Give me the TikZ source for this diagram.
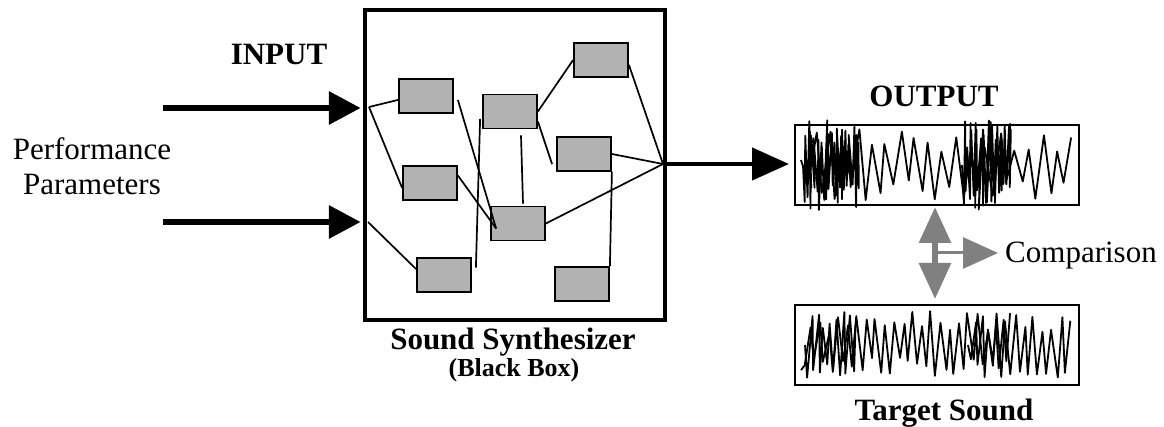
\documentclass[tikz,border=0pt]{standalone}
\usepackage{fontspec}
\setmainfont{Liberation Serif}
\usetikzlibrary{arrows.meta,calc}
\definecolor{boxgrey}{RGB}{178,178,178}
\definecolor{arrowgrey}{RGB}{128,128,128}
\begin{document}
\begin{tikzpicture}[x=1pt,y=-1pt,
  unit/.style={draw=black, line width=1.8pt, fill=boxgrey,
    minimum width=54pt, minimum height=34pt, inner sep=0pt},
  link/.style={line width=1.7pt},
  feed/.style={line width=6.5pt, -{Triangle[length=32pt,width=32pt]}},
  outfeed/.style={line width=4.5pt, -{Triangle[length=37pt,width=32pt]}},
  wavebox/.style={draw, line width=2pt, minimum width=284pt,
    minimum height=80pt, inner sep=0pt},
  wave/.style={line width=1.8pt, line join=round},
  lbl/.style={font=\fontsize{31}{35}\selectfont, inner sep=0pt},
  blbl/.style={font=\fontsize{31}{35}\selectfont\bfseries, inner sep=0pt},
  sblbl/.style={font=\fontsize{26}{30}\selectfont\bfseries, inner sep=0pt},
  cmpv/.style={draw=arrowgrey, line width=6pt,
    {Triangle[length=36pt,width=31pt]}-{Triangle[length=36pt,width=31pt]}},
  cmph/.style={draw=arrowgrey, line width=3pt,
    -{Triangle[length=35pt,width=31pt]}}
]
\useasboundingbox (0,0) rectangle (1164,427);

% the synthesizer (black box)
\node[draw, line width=4.5pt, minimum width=300pt, minimum height=310pt,
  inner sep=0pt] (synth) at (515,165) {};

% internal units
\node[unit] (b1) at (426,96) {};
\node[unit] (b2) at (510,111.5) {};
\node[unit] (b3) at (601,60) {};
\node[unit] (b4) at (584,154) {};
\node[unit] (b5) at (430,183) {};
\node[unit] (b6) at (518,223.5) {};
\node[unit] (b7) at (444,275) {};
\node[unit] (b8) at (582,284) {};

% junctions on the box border
\coordinate (in1) at (369,107);
\coordinate (in2) at (368,222);
\coordinate (outj) at (663,164);

% internal wiring
\draw[link] (in1) -- (b1.188);
\draw[link] (in1) -- (b5.190);
\draw[link] (in2) -- (b7.168);
\draw[link] ($(b1.east)+(4,4)$) -- ($(b6.west)+(6,5)$);
\draw[link] (b5.15) -- ($(b6.west)+(6,5)$);
\draw[link] ($(b7.15)+(4,0)$) -- ($(b2.195)+(-2,0)$);
\draw[link] ($(b2.south)+(11,6)$) -- ($(b6.north)+(5,-2)$);
\draw[link] (b2.east) -- (b3.west);
\draw[link] (b2.340) -- ($(b4.200)+(-4,0)$);
\draw[link] (b3.350) -- (outj);
\draw[link] (b4.east) -- (outj);
\draw[link] (b6.east) -- (outj);
\draw[link] (b4.south east) -- (b8.north east);

% inputs
\coordinate (p1) at (163,108);
\coordinate (p2) at (163,222);
\draw[feed, shorten >=2pt] (p1) -- (p1 -| synth.west);
\draw[feed, shorten >=2pt] (p2) -- (p2 -| synth.west);

% waveform panels
\node[wavebox] (wout) at (937,165) {};
\node[wavebox] (wtgt) at (937,345) {};

% output
\draw[outfeed] (outj) -- ($(wout.west)+(-5,-1)$);

% synthesized waveform
\pgfmathsetseed{4711}
\draw[wave] (801,160)
  \foreach \i in {1,...,38}{ -- ({801+\i*7.1+2*rand},{165+(2*mod(\i,2)-1)*(12+24*rnd)}) };
\draw[wave] (803,165)
  \foreach \i in {1,...,44}{ -- ({803+\i*1.25+2*rand},{165+(2*mod(\i,2)-1)*(16+29*rnd)}) };
\draw[wave] (962,165)
  \foreach \i in {1,...,40}{ -- ({962+\i*1.25+2*rand},{165+(2*mod(\i,2)-1)*(16+29*rnd)}) };

% target waveform
\draw[wave] (801,370)
  \foreach \i in {1,...,58}{ -- ({801+\i*4.65+1.5*rand},{345+(2*mod(\i,2)-1)*(12+22*rnd)}) };
\draw[wave] (805,345)
  \foreach \i in {1,...,16}{ -- ({805+\i*3.2+1.5*rand},{345+(2*mod(\i,2)-1)*(14+20*rnd)}) };
\draw[wave] (968,345)
  \foreach \i in {1,...,12}{ -- ({968+\i*3.5+1.5*rand},{345+(2*mod(\i,2)-1)*(14+20*rnd)}) };

% comparison arrows
\draw[cmpv] ($(wout.south)+(-2,1)$) -- ($(wtgt.north)+(-2,-5)$);
\coordinate (cmid) at (936,253);

% labels
\node[blbl, anchor=base] (inlbl) at (279,65) {INPUT};
\node[lbl, align=center, anchor=north] (perf) at (92,137) {Performance\\Parameters};
\node[blbl, anchor=base] (outlbl) at (934,107) {OUTPUT};
\node[blbl, anchor=base] (synthlbl) at (513,349) {Sound Synthesizer};
\node[sblbl, anchor=base] (bblbl) at (514,377) {(Black Box)};
\node[blbl, anchor=base] (tgtlbl) at (944,420) {Target Sound};
\node[lbl, anchor=base west] (cmp) at (1005,263) {Comparison};

\draw[cmph, shorten >=7pt] (cmid) -- (cmid -| cmp.west);
\end{tikzpicture}
\end{document}
